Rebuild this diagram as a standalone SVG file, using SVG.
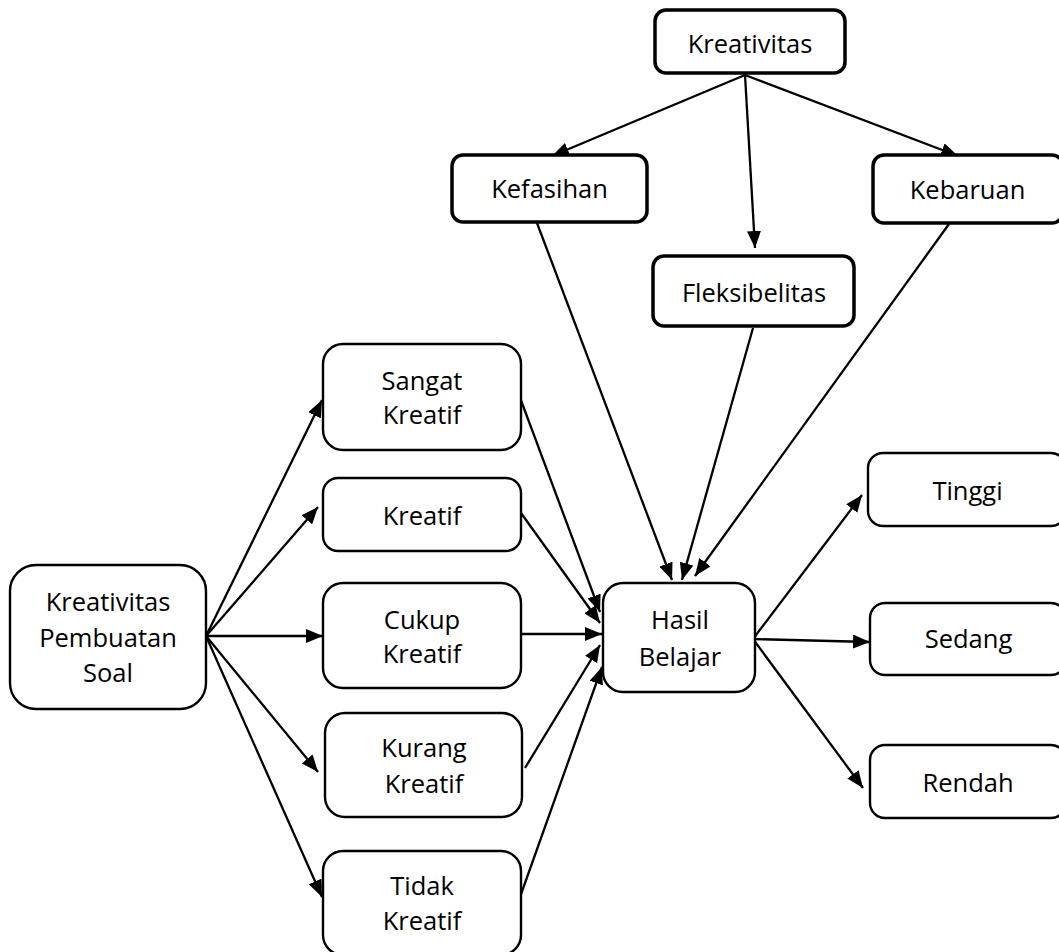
<svg xmlns="http://www.w3.org/2000/svg" width="1059" height="952" viewBox="0 0 1059 952">
<style>
.bx{fill:#fff;stroke:#000;stroke-width:2.4}
.bt{fill:#fff;stroke:#000;stroke-width:3.5}
.t{font-family:"Open Sans","Noto Sans",sans-serif;font-size:25.5px;fill:#000;text-anchor:middle}
.c line{stroke:#000;stroke-width:2.3;marker-end:url(#ah)}
</style>
<defs>
<marker id="ah" viewBox="0 0 17 14" refX="17" refY="7" markerWidth="17" markerHeight="14" markerUnits="userSpaceOnUse" orient="auto">
<path d="M0,0 L17,7 L0,14 z" fill="#000"/>
</marker>
</defs>
<rect width="1059" height="952" fill="#fff"/>
<g class="c" id="connectors">
<line x1="745" y1="75" x2="552" y2="156"/>
<line x1="745" y1="75" x2="755" y2="248"/>
<line x1="745" y1="75" x2="958" y2="156"/>
<line x1="537" y1="223" x2="672" y2="580"/>
<line x1="753" y1="328" x2="682" y2="580"/>
<line x1="949" y1="224" x2="695" y2="576"/>
<line x1="206" y1="636" x2="322" y2="400"/>
<line x1="206" y1="636" x2="318" y2="507"/>
<line x1="206" y1="636" x2="323" y2="636"/>
<line x1="206" y1="636" x2="318" y2="772"/>
<line x1="206" y1="636" x2="322" y2="897"/>
<line x1="519" y1="395" x2="600" y2="612"/>
<line x1="521" y1="513" x2="600" y2="623"/>
<line x1="521" y1="634" x2="602" y2="634"/>
<line x1="525" y1="768" x2="600" y2="645"/>
<line x1="520" y1="897" x2="602" y2="667"/>
<line x1="753" y1="639" x2="862" y2="495"/>
<line x1="753" y1="639" x2="870" y2="642"/>
<line x1="753" y1="639" x2="863" y2="788"/>
</g>
<g id="kreativitas"><rect class="bt" x="655" y="10" width="190" height="63" rx="11"/><text class="t" x="750" y="53">Kreativitas</text></g>
<g id="kefasihan"><rect class="bt" x="452" y="155" width="195" height="67" rx="11"/><text class="t" x="549.5" y="198">Kefasihan</text></g>
<g id="kebaruan"><rect class="bt" x="873" y="155" width="190" height="68" rx="11"/><text class="t" x="967.5" y="199">Kebaruan</text></g>
<g id="fleksibelitas"><rect class="bt" x="653" y="256" width="201" height="70" rx="11"/><text class="t" x="754" y="302">Fleksibelitas</text></g>
<g id="pembuatan"><rect class="bx" x="10" y="565" width="196" height="144" rx="26"/><text class="t" x="108" y="611">Kreativitas</text><text class="t" x="108" y="647">Pembuatan</text><text class="t" x="108" y="682">Soal</text></g>
<g id="sangat"><rect class="bx" x="323" y="344" width="198" height="106" rx="20"/><text class="t" x="422" y="390">Sangat</text><text class="t" x="422" y="424">Kreatif</text></g>
<g id="kreatif"><rect class="bx" x="323" y="478" width="198" height="73" rx="15"/><text class="t" x="422" y="525">Kreatif</text></g>
<g id="cukup"><rect class="bx" x="323" y="583" width="198" height="105" rx="20"/><text class="t" x="422" y="629">Cukup</text><text class="t" x="422" y="663">Kreatif</text></g>
<g id="kurang"><rect class="bx" x="325" y="713" width="197" height="104" rx="20"/><text class="t" x="424" y="757">Kurang</text><text class="t" x="424" y="793">Kreatif</text></g>
<g id="tidak"><rect class="bx" x="323" y="851" width="198" height="104" rx="20"/><text class="t" x="422" y="895">Tidak</text><text class="t" x="422" y="930">Kreatif</text></g>
<g id="hasil"><rect class="bx" x="603" y="583" width="152" height="109" rx="20"/><text class="t" x="680" y="629">Hasil</text><text class="t" x="680" y="666">Belajar</text></g>
<g id="tinggi"><rect class="bx" x="868" y="453" width="198" height="73" rx="15"/><text class="t" x="967.5" y="500">Tinggi</text></g>
<g id="sedang"><rect class="bx" x="870" y="603" width="196" height="72" rx="15"/><text class="t" x="968.5" y="648">Sedang</text></g>
<g id="rendah"><rect class="bx" x="870" y="745" width="196" height="73" rx="15"/><text class="t" x="968" y="792">Rendah</text></g>
</svg>
